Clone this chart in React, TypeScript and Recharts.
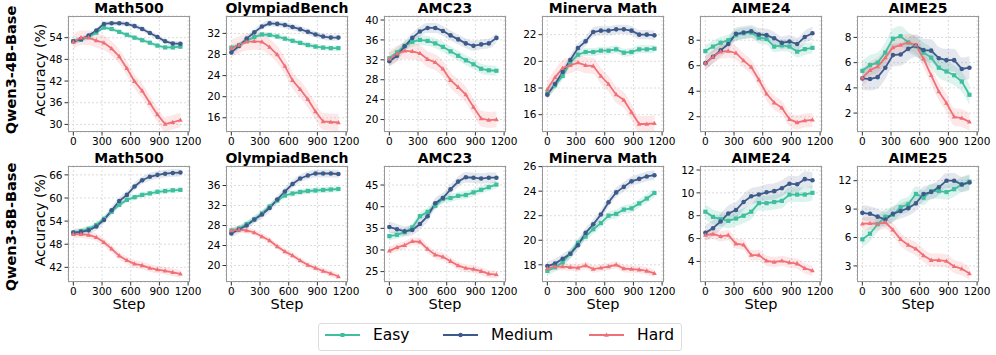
import { ComposedChart, Line, Area, XAxis, YAxis, CartesianGrid } from "recharts";

const EASY = "#3fbf9e";
const MEDIUM = "#3d5b8a";
const HARD = "#f07077";

const STEPS = [0, 80, 160, 240, 320, 400, 480, 560, 640, 720, 800, 880, 960, 1040, 1120];
const X_TICKS = [0, 300, 600, 900, 1200];

// Qwen3-4B-Base
const math500_4b_easy = [53.0, 53.4, 54.2, 55.4, 56.8, 56.4, 55.6, 54.8, 54.0, 53.3, 52.6, 51.8, 51.3, 51.3, 51.5];
const math500_4b_medium = [53.0, 53.6, 54.6, 56.0, 57.8, 58.0, 58.0, 57.8, 57.2, 56.4, 55.3, 54.2, 53.0, 52.4, 52.3];
const math500_4b_hard = [52.8, 54.0, 54.0, 53.2, 52.6, 51.0, 48.8, 45.5, 41.9, 39.3, 35.9, 32.7, 30.1, 30.6, 31.2];

const olympiad_4b_easy = [29.3, 29.8, 30.6, 31.3, 31.8, 31.7, 31.4, 31.0, 30.6, 30.2, 29.8, 29.5, 29.3, 29.2, 29.2];
const olympiad_4b_medium = [28.4, 29.6, 31.0, 32.2, 33.3, 33.9, 33.8, 33.6, 33.2, 32.8, 32.3, 31.8, 31.4, 31.2, 31.2];
const olympiad_4b_hard = [29.2, 29.8, 30.4, 30.5, 30.4, 29.4, 28.0, 25.8, 23.1, 21.4, 19.5, 17.2, 15.3, 15.2, 15.1];

const amc23_4b_easy = [32.3, 33.5, 34.8, 35.6, 36.0, 35.8, 35.3, 34.6, 33.7, 32.8, 31.9, 31.1, 30.2, 29.9, 29.8];
const amc23_4b_medium = [31.7, 32.8, 34.7, 36.4, 37.7, 38.4, 38.4, 37.8, 36.9, 36.1, 35.3, 34.8, 35.1, 35.3, 36.4];
const amc23_4b_hard = [32.2, 33.2, 33.8, 33.7, 33.3, 32.1, 31.5, 30.2, 27.9, 26.5, 25.0, 22.5, 20.2, 19.9, 20.0];

const minerva_4b_easy = [17.6, 18.2, 18.9, 19.9, 20.5, 20.7, 20.7, 20.8, 20.8, 20.9, 20.65, 20.7, 20.9, 20.9, 20.95];
const minerva_4b_medium = [17.5, 18.3, 19.2, 20.1, 21.0, 21.5, 22.2, 22.3, 22.3, 22.4, 22.4, 22.3, 22.0, 22.0, 21.95];
const minerva_4b_hard = [17.9, 18.8, 19.5, 19.7, 19.9, 19.7, 19.65, 18.9, 18.3, 17.5, 17.1, 16.2, 15.3, 15.3, 15.35];

const aime24_4b_easy = [7.15, 7.5, 7.8, 8.0, 8.4, 8.55, 8.6, 8.2, 8.1, 7.5, 7.6, 7.5, 7.1, 7.3, 7.4];
const aime24_4b_medium = [6.2, 6.7, 7.2, 7.7, 8.5, 8.6, 8.7, 8.45, 8.4, 8.15, 7.8, 7.9, 7.7, 8.25, 8.55];
const aime24_4b_hard = [6.2, 6.7, 7.1, 7.15, 7.0, 6.4, 5.9, 4.9, 3.8, 3.1, 2.7, 1.8, 1.55, 1.7, 1.75];

const aime25_4b_easy = [5.35, 5.8, 6.0, 6.8, 7.9, 8.1, 7.6, 7.3, 6.8, 6.4, 5.6, 5.3, 5.0, 4.5, 3.45];
const aime25_4b_medium = [4.75, 4.7, 4.85, 5.6, 6.6, 6.65, 7.1, 7.35, 7.0, 6.95, 6.35, 6.2, 6.2, 5.5, 5.6];
const aime25_4b_hard = [4.8, 5.4, 5.7, 6.4, 7.2, 7.4, 7.6, 7.4, 6.3, 5.0, 3.7, 2.8, 1.7, 1.6, 1.3];

// Qwen3-8B-Base
const math500_8b_easy = [51.0, 51.4, 52.0, 53.0, 54.6, 56.4, 58.2, 59.5, 60.2, 60.8, 61.2, 61.6, 61.8, 62.0, 62.1];
const math500_8b_medium = [51.0, 51.2, 51.6, 52.6, 54.3, 56.8, 59.2, 60.8, 63.0, 64.6, 65.5, 66.0, 66.3, 66.5, 66.6];
const math500_8b_hard = [50.6, 50.6, 50.4, 49.8, 48.5, 46.8, 45.0, 43.8, 42.9, 42.5, 41.8, 41.4, 41.1, 40.7, 40.3];

const olympiad_8b_easy = [27.0, 27.4, 28.3, 29.2, 30.4, 31.8, 33.0, 34.0, 34.4, 34.7, 34.9, 35.0, 35.1, 35.2, 35.3];
const olympiad_8b_medium = [26.4, 27.2, 28.0, 29.2, 30.2, 31.5, 33.2, 34.8, 36.3, 37.4, 38.0, 38.4, 38.4, 38.4, 38.3];
const olympiad_8b_hard = [27.0, 27.2, 27.0, 26.6, 25.8, 25.0, 23.8, 22.8, 22.0, 21.0, 20.1, 19.5, 18.9, 18.4, 17.8];

const amc23_8b_easy = [33.2, 33.5, 34.1, 35.2, 37.8, 38.8, 40.2, 41.8, 42.0, 42.5, 42.7, 43.3, 43.9, 44.5, 45.1];
const amc23_8b_medium = [35.3, 34.8, 34.3, 34.6, 36.0, 37.8, 40.8, 42.0, 44.0, 45.8, 46.8, 46.7, 46.5, 46.7, 46.7];
const amc23_8b_hard = [29.8, 30.6, 31.1, 32.0, 31.9, 30.2, 28.9, 28.4, 27.4, 26.4, 25.8, 25.6, 25.1, 24.5, 24.3];

const minerva_8b_easy = [17.5, 17.8, 18.2, 18.9, 19.8, 20.3, 20.9, 21.4, 22.0, 22.15, 22.5, 22.6, 23.0, 23.4, 23.85];
const minerva_8b_medium = [17.9, 18.1, 18.5, 18.9, 19.6, 20.6, 21.3, 22.1, 23.1, 23.9, 24.35, 24.8, 25.0, 25.2, 25.3];
const minerva_8b_hard = [17.7, 17.85, 17.85, 17.8, 17.75, 17.95, 17.65, 17.75, 17.85, 18.0, 17.7, 17.65, 17.6, 17.5, 17.3];

const aime24_8b_easy = [8.35, 7.9, 7.7, 7.55, 7.75, 8.0, 8.35, 9.1, 9.1, 9.2, 9.3, 9.85, 9.85, 9.85, 10.0];
const aime24_8b_medium = [6.5, 6.9, 7.5, 8.2, 8.5, 9.2, 9.7, 9.85, 10.05, 10.15, 10.4, 10.8, 10.75, 11.2, 11.1];
const aime24_8b_hard = [6.3, 6.4, 6.2, 6.3, 5.55, 5.45, 4.55, 4.55, 4.05, 3.95, 4.05, 3.9, 3.8, 3.4, 3.2];

const aime25_8b_easy = [5.8, 6.4, 7.4, 8.2, 8.4, 9.2, 9.5, 10.6, 10.2, 10.9, 10.9, 10.8, 11.1, 11.6, 11.9];
const aime25_8b_medium = [8.6, 8.5, 8.2, 7.9, 8.5, 8.8, 9.1, 9.6, 10.6, 10.8, 11.3, 12.0, 12.0, 11.6, 11.8];
const aime25_8b_hard = [7.45, 7.5, 7.45, 7.6, 6.8, 5.8, 5.2, 4.8, 4.1, 3.6, 3.6, 3.5, 2.95, 2.7, 2.2];

// shaded band half-widths [easy, medium, hard]
const PANELS = [
  { title: "Math500", easy: math500_4b_easy, medium: math500_4b_medium, hard: math500_4b_hard, domain: [27.9, 60], ticks: [30, 36, 42, 48, 54], band: [0.6, 0.7, 2.0] },
  { title: "OlympiadBench", easy: olympiad_4b_easy, medium: olympiad_4b_medium, hard: olympiad_4b_hard, domain: [13.3, 35.3], ticks: [16, 20, 24, 28, 32], band: [0.5, 0.6, 1.6] },
  { title: "AMC23", easy: amc23_4b_easy, medium: amc23_4b_medium, hard: amc23_4b_hard, domain: [17.5, 40.8], ticks: [20, 24, 28, 32, 36, 40], band: [1.0, 1.0, 1.6] },
  { title: "Minerva Math", easy: minerva_4b_easy, medium: minerva_4b_medium, hard: minerva_4b_hard, domain: [14.7, 23.4], ticks: [16, 18, 20, 22], band: [0.3, 0.35, 0.6] },
  { title: "AIME24", easy: aime24_4b_easy, medium: aime24_4b_medium, hard: aime24_4b_hard, domain: [0.8, 9.9], ticks: [2, 4, 6, 8], band: [0.45, 0.5, 0.55] },
  { title: "AIME25", easy: aime25_4b_easy, medium: aime25_4b_medium, hard: aime25_4b_hard, domain: [0.5, 9.7], ticks: [2, 4, 6, 8], band: [0.8, 0.9, 0.7] },
  { title: "Math500", easy: math500_8b_easy, medium: math500_8b_medium, hard: math500_8b_hard, domain: [38.2, 68.3], ticks: [42, 48, 54, 60, 66], band: [0.7, 1.0, 1.0] },
  { title: "OlympiadBench", easy: olympiad_8b_easy, medium: olympiad_8b_medium, hard: olympiad_8b_hard, domain: [16.7, 39.9], ticks: [20, 24, 28, 32, 36], band: [0.6, 0.8, 0.6] },
  { title: "AMC23", easy: amc23_8b_easy, medium: amc23_8b_medium, hard: amc23_8b_hard, domain: [22.6, 49.4], ticks: [25, 30, 35, 40, 45], band: [0.9, 1.2, 0.9] },
  { title: "Minerva Math", easy: minerva_8b_easy, medium: minerva_8b_medium, hard: minerva_8b_hard, domain: [16.6, 26.05], ticks: [18, 20, 22, 24, 26], band: [0.35, 0.4, 0.3] },
  { title: "AIME24", easy: aime24_8b_easy, medium: aime24_8b_medium, hard: aime24_8b_hard, domain: [2.2, 12.35], ticks: [4, 6, 8, 10, 12], band: [0.65, 0.7, 0.45] },
  { title: "AIME25", easy: aime25_8b_easy, medium: aime25_8b_medium, hard: aime25_8b_hard, domain: [1.3, 13.55], ticks: [3, 6, 9, 12], band: [0.8, 0.8, 0.7] },
];

const ROW_LABELS = ["Qwen3-4B-Base", "Qwen3-8B-Base"];
const PLOT_X = [68, 226, 384, 542, 700, 857];
const PLOT_Y = [16, 166];
const PLOT_W = 122;
const PLOT_H = 116;
const Y_AXIS_W = 32;
const FONT = "'DejaVu Sans', sans-serif";

const squareDot = (color: string) => (p: any) => (
  <rect key={p.index} x={p.cx - 2.1} y={p.cy - 2.1} width={4.2} height={4.2} fill={color} />
);
const circleDot = (color: string) => (p: any) => (
  <circle key={p.index} cx={p.cx} cy={p.cy} r={2.3} fill={color} />
);
const triDot = (color: string) => (p: any) => (
  <path key={p.index} d={`M${p.cx},${p.cy - 2.6}L${p.cx + 2.4},${p.cy + 1.7}L${p.cx - 2.4},${p.cy + 1.7}Z`} fill={color} />
);

function Panel({ panel, col, row }: { panel: any; col: number; row: number }) {
  const [be, bm, bh] = panel.band;
  const data = STEPS.map((s, i) => ({
    step: s,
    easy: panel.easy[i],
    medium: panel.medium[i],
    hard: panel.hard[i],
    easyBand: [panel.easy[i] - be, panel.easy[i] + be],
    mediumBand: [panel.medium[i] - bm, panel.medium[i] + bm],
    hardBand: [panel.hard[i] - bh, panel.hard[i] + bh],
  }));
  const left = PLOT_X[col];
  const top = PLOT_Y[row];
  const tick = { fontSize: 10.5, fill: "#000", fontFamily: FONT };

  return (
    <>
      <div style={{ position: "absolute", left: left - Y_AXIS_W, top: top - 6 }}>
        <ComposedChart width={Y_AXIS_W + PLOT_W + 12} height={6 + PLOT_H + 20} data={data} margin={{ top: 6, right: 12, bottom: 0, left: 0 }}>
          <CartesianGrid stroke="#dcdcdc" strokeDasharray="2 2" />
          <XAxis dataKey="step" type="number" domain={[-56, 1220]} ticks={X_TICKS} allowDataOverflow height={20}
            axisLine={false} tickLine={{ stroke: "#333" }} tickSize={3.5} tickMargin={2} tick={tick} interval={0} />
          <YAxis type="number" domain={panel.domain} ticks={panel.ticks} allowDataOverflow width={Y_AXIS_W}
            axisLine={false} tickLine={{ stroke: "#333" }} tickSize={3.5} tickMargin={2} tick={tick} interval={0} />
          <Area dataKey="easyBand" type="monotone" stroke="none" fill={EASY} fillOpacity={0.18} isAnimationActive={false} dot={false} activeDot={false} />
          <Area dataKey="mediumBand" type="monotone" stroke="none" fill={MEDIUM} fillOpacity={0.14} isAnimationActive={false} dot={false} activeDot={false} />
          <Area dataKey="hardBand" type="monotone" stroke="none" fill={HARD} fillOpacity={0.16} isAnimationActive={false} dot={false} activeDot={false} />
          <Line dataKey="easy" type="linear" stroke={EASY} strokeWidth={1.8} dot={squareDot(EASY)} isAnimationActive={false} activeDot={false} />
          <Line dataKey="medium" type="linear" stroke={MEDIUM} strokeWidth={1.8} dot={circleDot(MEDIUM)} isAnimationActive={false} activeDot={false} />
          <Line dataKey="hard" type="linear" stroke={HARD} strokeWidth={1.8} dot={triDot(HARD)} isAnimationActive={false} activeDot={false} />
        </ComposedChart>
      </div>
      <div style={{ position: "absolute", left, top, width: PLOT_W, height: PLOT_H, border: "1px solid #999", boxSizing: "border-box", pointerEvents: "none" }} />
      <div style={{ position: "absolute", left: left - 40, width: PLOT_W + 80, top: top - 16, textAlign: "center", fontFamily: FONT, fontWeight: "bold", fontSize: 14, lineHeight: "16px" }}>
        {panel.title}
      </div>
      {row === 1 && (
        <div style={{ position: "absolute", left, width: PLOT_W, top: 297, textAlign: "center", fontFamily: FONT, fontSize: 14.5, lineHeight: "14px" }}>
          Step
        </div>
      )}
    </>
  );
}

function LegendItem({ x, color, label, shape }: { x: number; color: string; label: string; shape: string }) {
  return (
    <>
      <svg style={{ position: "absolute", left: x, top: 330 }} width={36} height={10}>
        <line x1={0} y1={5} x2={35} y2={5} stroke={color} strokeWidth={2} />
        {shape === "square" && <rect x={15.5} y={3} width={4} height={4} fill={color} />}
        {shape === "circle" && <circle cx={17.5} cy={5} r={2.2} fill={color} />}
        {shape === "tri" && <path d="M17.5,2.4L19.9,6.7L15.1,6.7Z" fill={color} />}
      </svg>
      <div style={{ position: "absolute", left: x + 48, top: 326, fontFamily: FONT, fontSize: 15.5, lineHeight: "18px" }}>{label}</div>
    </>
  );
}

export default function App() {
  return (
    <div style={{ position: "absolute", left: 0, top: 0, width: 996, height: 355, background: "#fff", overflow: "hidden" }}>
      {PANELS.map((p, i) => (
        <Panel key={i} panel={p} col={i % 6} row={Math.floor(i / 6)} />
      ))}
      {ROW_LABELS.map((label, r) => (
        <div key={label} style={{ position: "absolute", left: 11, top: PLOT_Y[r] + PLOT_H / 2 - (r === 0 ? 4 : -3), transform: "translate(-50%, -50%) rotate(-90deg)", whiteSpace: "nowrap", fontFamily: FONT, fontWeight: "bold", fontSize: 14.5 }}>
          {label}
        </div>
      ))}
      {PLOT_Y.map((y, r) => (
        <div key={r} style={{ position: "absolute", left: 40, top: y + PLOT_H / 2 - 4, transform: "translate(-50%, -50%) rotate(-90deg)", whiteSpace: "nowrap", fontFamily: FONT, fontSize: 14, lineHeight: "14px" }}>
          Accuracy (%)
        </div>
      ))}
      <div style={{ position: "absolute", left: 318, top: 323, width: 364, height: 28, border: "1px solid #ddd", borderRadius: 3, boxSizing: "border-box" }} />
      <LegendItem x={325} color={EASY} label="Easy" shape="square" />
      <LegendItem x={443} color={MEDIUM} label="Medium" shape="circle" />
      <LegendItem x={589} color={HARD} label="Hard" shape="tri" />
    </div>
  );
}
